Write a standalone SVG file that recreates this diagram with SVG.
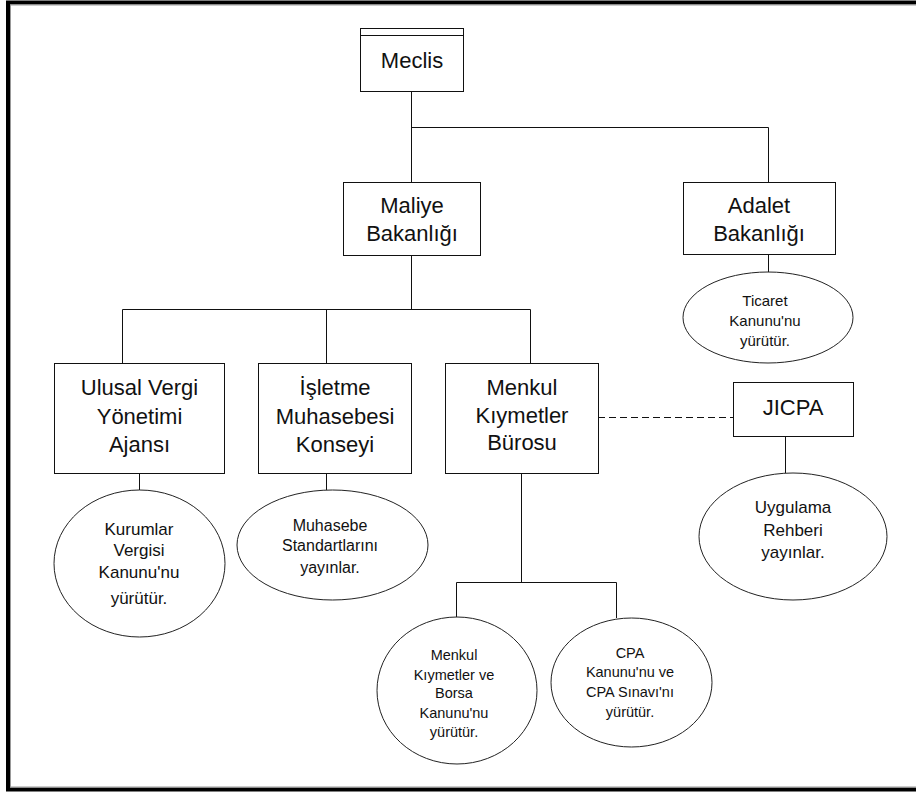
<svg xmlns="http://www.w3.org/2000/svg" width="916" height="794" viewBox="0 0 916 794">
<style>
.box{fill:#fff;stroke:#111;stroke-width:1}
.ell{fill:#fff;stroke:#222;stroke-width:1}
.ln{fill:none;stroke:#111;stroke-width:1}
.dash{fill:none;stroke:#111;stroke-width:1;stroke-dasharray:7 4}
.t{font-family:"Liberation Sans",Arial,sans-serif;fill:#111;text-anchor:middle}
.big{font-size:22px}
.s17{font-size:17px}
.s16{font-size:16px}
.s15{font-size:15px}
.s14{font-size:14.5px}
</style>
<rect x="0" y="0" width="916" height="794" fill="#fff"/>
<g id="frame">
<path d="M916 2.5 H8 V789.5 H916" fill="none" stroke="#000" stroke-width="4"/>
<path d="M916 5 H10.5 V787 H916" fill="none" stroke="#999" stroke-width="1"/>
</g>
<g id="connectors">
<path class="ln" d="M411.5 91 V182"/>
<path class="ln" d="M411.5 127.5 H768.5 V182"/>
<path class="ln" d="M411.5 255 V309.5"/>
<path class="ln" d="M122.5 309.5 H530.5"/>
<path class="ln" d="M122.5 309.5 V363"/>
<path class="ln" d="M326.5 309.5 V363"/>
<path class="ln" d="M530.5 309.5 V363"/>
<path class="ln" d="M768.5 254 V272"/>
<path class="ln" d="M139.5 473 V490"/>
<path class="ln" d="M326.5 473 V490"/>
<path class="ln" d="M521.5 473 V582.5"/>
<path class="ln" d="M456.5 582.5 H616.5"/>
<path class="ln" d="M456.5 582.5 V617"/>
<path class="ln" d="M616.5 582.5 V618"/>
<path class="dash" d="M598 417.5 H733"/>
<path class="ln" d="M785.5 436 V473"/>
</g>
<g id="meclis">
<rect class="box" x="360.5" y="28.5" width="103" height="63"/>
<path class="ln" d="M360.5 35.5 H463.5"/>
<text class="t big" x="412" y="68">Meclis</text>
</g>
<g id="maliye">
<rect class="box" x="343.5" y="182.5" width="137" height="73"/>
<text class="t big" x="412" y="213">Maliye</text>
<text class="t big" x="412" y="241">Bakanlığı</text>
</g>
<g id="adalet">
<rect class="box" x="683.5" y="182.5" width="152" height="72"/>
<text class="t big" x="759" y="213">Adalet</text>
<text class="t big" x="759" y="241">Bakanlığı</text>
</g>
<g id="ticaret">
<ellipse class="ell" cx="768" cy="317.5" rx="85" ry="45.5"/>
<text class="t s15" x="765" y="305.5">Ticaret</text>
<text class="t s15" x="765" y="326">Kanunu'nu</text>
<text class="t s15" x="765" y="345.5">yürütür.</text>
</g>
<g id="ulusal">
<rect class="box" x="54.5" y="363.5" width="170" height="110"/>
<text class="t big" x="139.5" y="395">Ulusal Vergi</text>
<text class="t big" x="139.5" y="424">Yönetimi</text>
<text class="t big" x="139.5" y="452">Ajansı</text>
</g>
<g id="isletme">
<rect class="box" x="258.5" y="363.5" width="153" height="110"/>
<text class="t big" x="335" y="395">İşletme</text>
<text class="t big" x="335" y="424">Muhasebesi</text>
<text class="t big" x="335" y="452">Konseyi</text>
</g>
<g id="menkul">
<rect class="box" x="445.5" y="363.5" width="153" height="110"/>
<text class="t big" x="522" y="395">Menkul</text>
<text class="t big" x="522" y="423">Kıymetler</text>
<text class="t big" x="522" y="450">Bürosu</text>
</g>
<g id="jicpa">
<rect class="box" x="733.5" y="382.5" width="120" height="54"/>
<text class="t big" x="793" y="414.5">JICPA</text>
</g>
<g id="kurumlar">
<ellipse class="ell" cx="139.5" cy="563.5" rx="85.5" ry="73.5"/>
<text class="t s17" x="139" y="535">Kurumlar</text>
<text class="t s17" x="139" y="556">Vergisi</text>
<text class="t s17" x="139" y="578">Kanunu'nu</text>
<text class="t s17" x="139" y="604">yürütür.</text>
</g>
<g id="muhasebe">
<ellipse class="ell" cx="332.5" cy="545" rx="95.5" ry="55"/>
<text class="t s16" x="330" y="531">Muhasebe</text>
<text class="t s16" x="330" y="551">Standartlarını</text>
<text class="t s16" x="330" y="573">yayınlar.</text>
</g>
<g id="uygulama">
<ellipse class="ell" cx="793" cy="536.5" rx="94" ry="63.5"/>
<text class="t s17" x="793" y="513">Uygulama</text>
<text class="t s17" x="793" y="536">Rehberi</text>
<text class="t s17" x="793" y="558">yayınlar.</text>
</g>
<g id="menkul-borsa">
<ellipse class="ell" cx="457" cy="690.5" rx="80" ry="73.5"/>
<text class="t s14" x="454" y="660">Menkul</text>
<text class="t s14" x="454" y="680">Kıymetler ve</text>
<text class="t s14" x="454" y="698">Borsa</text>
<text class="t s14" x="454" y="718">Kanunu'nu</text>
<text class="t s14" x="454" y="737">yürütür.</text>
</g>
<g id="cpa">
<ellipse class="ell" cx="631.5" cy="682.5" rx="80.5" ry="64.5"/>
<text class="t s14" x="630" y="658">CPA</text>
<text class="t s14" x="630" y="677">Kanunu'nu ve</text>
<text class="t s14" x="630" y="697">CPA Sınavı'nı</text>
<text class="t s14" x="630" y="717">yürütür.</text>
</g>
</svg>
